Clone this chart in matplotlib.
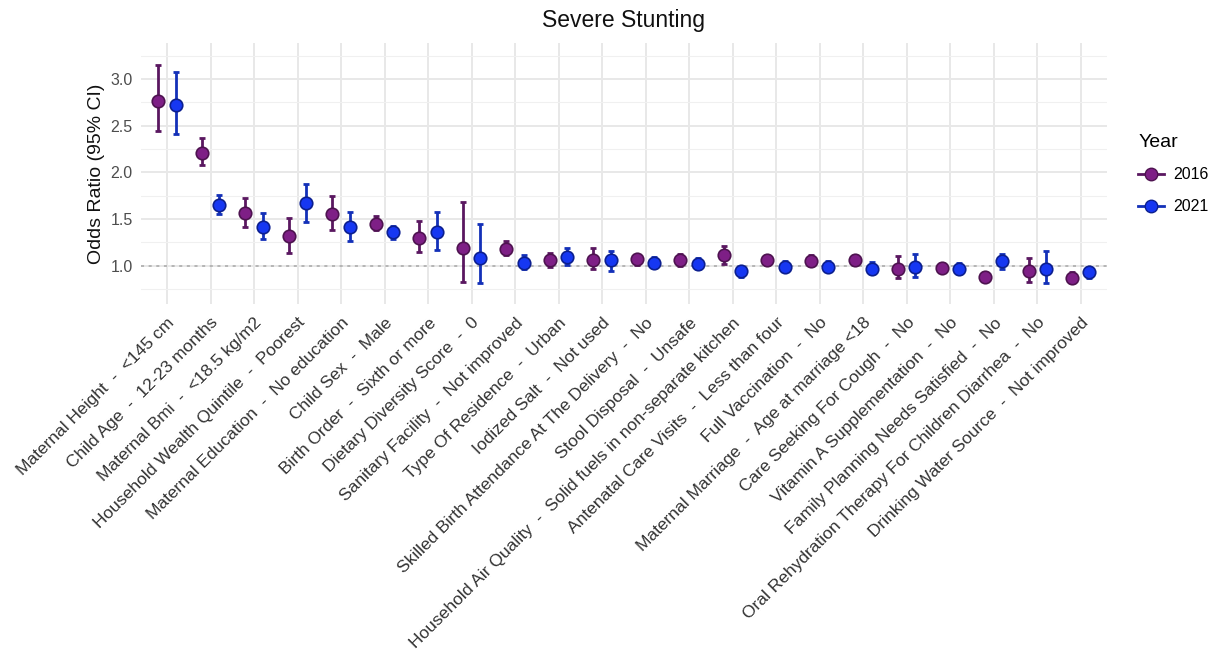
import numpy as np
import matplotlib.pyplot as plt
from matplotlib.lines import Line2D

plt.rcParams["font.family"] = ["Liberation Sans", "DejaVu Sans"]

# factor labels (variable - reference level)
factors = [
    "Maternal Height  -  <145 cm",
    "Child Age  -  12-23 months",
    "Maternal Bmi  -  <18.5 kg/m2",
    "Household Wealth Quintile  -  Poorest",
    "Maternal Education  -  No education",
    "Child Sex  -  Male",
    "Birth Order  -  Sixth or more",
    "Dietary Diversity Score  -  0",
    "Sanitary Facility  -  Not improved",
    "Type Of Residence  -  Urban",
    "Iodized Salt  -  Not used",
    "Skilled Birth Attendance At The Delivery  -  No",
    "Stool Disposal  -  Unsafe",
    "Household Air Quality  -  Solid fuels in non-separate kitchen",
    "Antenatal Care Visits  -  Less than four",
    "Full Vaccination  -  No",
    "Maternal Marriage  -  Age at marriage <18",
    "Care Seeking For Cough  -  No",
    "Vitamin A Supplementation  -  No",
    "Family Planning Needs Satisfied  -  No",
    "Oral Rehydration Therapy For Children Diarrhea  -  No",
    "Drinking Water Source  -  Not improved",
]

# odds ratios with 95% CI, 2016 survey
or_2016 = [2.77, 2.21, 1.57, 1.32, 1.55, 1.45, 1.30, 1.19, 1.18, 1.06, 1.06,
           1.07, 1.06, 1.11, 1.06, 1.05, 1.06, 0.97, 0.98, 0.88, 0.94, 0.87]
lo_2016 = [2.44, 2.08, 1.41, 1.14, 1.38, 1.38, 1.15, 0.83, 1.11, 0.99, 0.96,
           1.01, 1.00, 1.02, 1.01, 1.00, 1.01, 0.87, 0.94, 0.84, 0.83, 0.82]
hi_2016 = [3.15, 2.37, 1.73, 1.51, 1.75, 1.53, 1.48, 1.68, 1.26, 1.14, 1.19,
           1.12, 1.13, 1.21, 1.11, 1.11, 1.11, 1.10, 1.03, 0.93, 1.08, 0.93]

# odds ratios with 95% CI, 2021 survey
or_2021 = [2.72, 1.65, 1.42, 1.67, 1.41, 1.36, 1.36, 1.08, 1.03, 1.09, 1.06,
           1.03, 1.02, 0.94, 0.99, 0.99, 0.97, 0.99, 0.97, 1.05, 0.97, 0.93]
lo_2021 = [2.41, 1.55, 1.29, 1.47, 1.27, 1.29, 1.17, 0.81, 0.96, 1.01, 0.94,
           0.98, 0.96, 0.88, 0.94, 0.94, 0.91, 0.88, 0.91, 0.96, 0.82, 0.87]
hi_2021 = [3.08, 1.76, 1.56, 1.88, 1.58, 1.43, 1.58, 1.45, 1.11, 1.19, 1.16,
           1.09, 1.08, 0.99, 1.05, 1.05, 1.04, 1.13, 1.03, 1.13, 1.16, 0.99]

years = ["2016", "2021"]
fills = {"2016": "#7e1f86", "2021": "#1637f2"}
edges = {"2016": "#4e1350", "2021": "#0c1f8f"}
bars = {"2016": "#5a1760", "2021": "#1330b8"}

series = {
    "2016": (or_2016, lo_2016, hi_2016),
    "2021": (or_2021, lo_2021, hi_2021),
}

fig = plt.figure(figsize=(12.15, 6.58), dpi=100)
ax = fig.add_axes([0.116, 0.538, 0.795, 0.397])

x = np.arange(len(factors))
offsets = {"2016": -0.2, "2021": 0.2}

for yr in years:
    est, lo, hi = (np.array(v) for v in series[yr])
    xs = x + offsets[yr]
    ax.errorbar(xs, est, yerr=[est - lo, hi - est], fmt="none",
                ecolor=bars[yr], elinewidth=2, capsize=2.5, capthick=2, zorder=3)
    ax.plot(xs, est, "o", ms=9, mfc=fills[yr], mec=edges[yr], mew=1.2,
            linestyle="none", zorder=4)

ax.axhline(1.0, color="#a8a8a8", linestyle=(0, (2, 3)), linewidth=1.1, zorder=2)

# ggplot-like minimal theme
ax.set_xlim(-0.6, len(factors) - 0.4)
ax.set_ylim(0.59, 3.39)
ax.set_yticks([1.0, 1.5, 2.0, 2.5, 3.0])
ax.set_yticks([0.75, 1.25, 1.75, 2.25, 2.75, 3.25], minor=True)
ax.set_xticks(x)
ax.set_xticklabels(factors, rotation=45, ha="right", rotation_mode="anchor",
                   fontsize=12.5, color="#333333")
ax.tick_params(axis="x", length=0, pad=8)
ax.tick_params(axis="y", which="both", length=0, labelsize=11.5,
               labelcolor="#4d4d4d", pad=6)
ax.grid(True, which="major", color="#e8e8e8", linewidth=1.4, zorder=0)
ax.grid(True, which="minor", axis="y", color="#f0f0f0", linewidth=0.8, zorder=0)
ax.set_axisbelow(True)
for s in ax.spines.values():
    s.set_visible(False)

ax.set_ylabel("Odds Ratio (95% CI)", fontsize=14, color="#111111", labelpad=4)
ax.set_title("Severe Stunting", fontsize=16.5, color="#111111", pad=11)

handles = [
    Line2D([0], [0], color=bars[yr], lw=2, marker="o", ms=9,
           mfc=fills[yr], mec=edges[yr]) for yr in years
]
leg = fig.legend(handles, years, title="Year", loc="upper left",
                 bbox_to_anchor=(0.937, 0.797), frameon=False, fontsize=11.5,
                 title_fontsize=14, handlelength=1.6, labelspacing=1.05,
                 handletextpad=0.6, borderpad=0, borderaxespad=0)
leg._legend_box.align = "left"

fig.savefig("out.png", dpi=100)
